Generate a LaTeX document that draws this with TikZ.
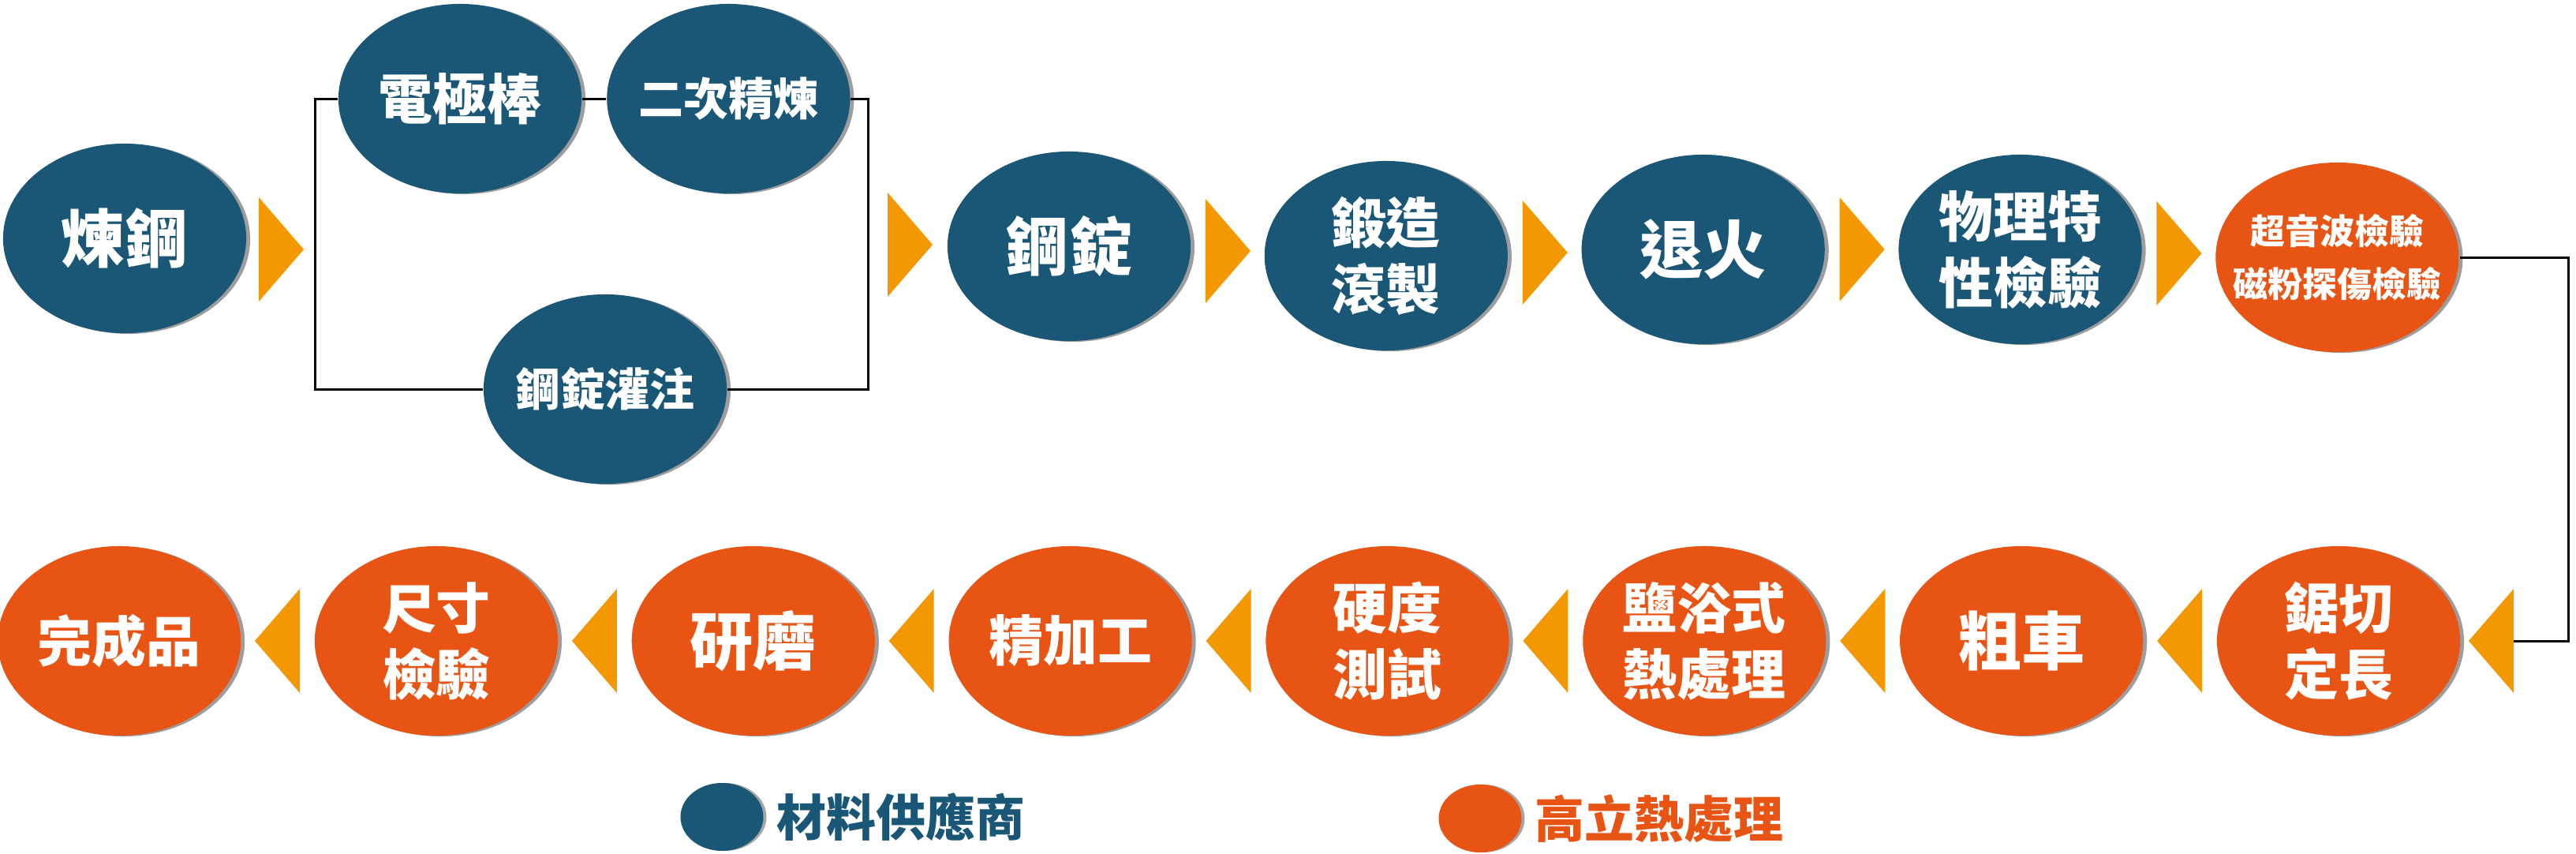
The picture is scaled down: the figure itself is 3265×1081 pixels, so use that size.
\documentclass[tikz,border=0pt]{standalone}
\usepackage{fontspec}
\newfontfamily\cjkfont{Noto Sans CJK TC}
\usetikzlibrary{shapes.geometric,shadows,calc,positioning}

\definecolor{supplierblue}{RGB}{26,86,117}
\definecolor{heatorange}{RGB}{232,84,20}
\definecolor{flowtip}{RGB}{243,152,0}

\newcommand{\fwdtip}[1]{\fill[flowtip] (#1) ++(-28,-66) -- ++(57,66) -- ++(-57,66) -- cycle;}
\newcommand{\backtip}[1]{\fill[flowtip] (#1) ++(28,-66) -- ++(-57,66) -- ++(57,66) -- cycle;}

\begin{document}
\begin{tikzpicture}[x=0.01cm, y=-0.01cm, node distance=0.915cm, semithick]

    \tikzstyle{stage} = [ellipse, minimum width=3.08cm, minimum height=2.4cm, inner xsep=-0.5cm, inner ysep=0pt, text=white, align=center, font=\cjkfont\bfseries\fontsize{19.6}{23.9}\selectfont, drop shadow={shadow xshift=0.05cm, shadow yshift=-0.01cm, fill=black!70, opacity=0.55}]
    \tikzstyle{supplier} = [stage, fill=supplierblue]
    \tikzstyle{heat} = [stage, fill=heatorange]
    \tikzstyle{bigtext} = [font=\cjkfont\bfseries\fontsize{22.8}{27}\selectfont]
    \tikzstyle{midtext} = [font=\cjkfont\bfseries\fontsize{16.2}{20}\selectfont]
    \tikzstyle{smalltext} = [font=\cjkfont\bfseries\fontsize{12.5}{19}\selectfont]
    \tikzstyle{link} = [line width=0.03cm, black]
    \tikzstyle{keydot} = [ellipse, minimum width=1.05cm, minimum height=0.86cm, inner sep=0pt, drop shadow={shadow xshift=0.04cm, shadow yshift=0cm, fill=black!70, opacity=0.5}]
    \tikzstyle{keytext} = [inner sep=0pt, font=\cjkfont\bfseries\fontsize{17.9}{20}\selectfont]

    \useasboundingbox (0,0) rectangle (3265,1081);

    % supplier side
    \node (melt)   [supplier, bigtext] at (158,302)          {煉鋼};
    \node (rod)    [supplier] at (583,125)                   {電極棒};
    \node (refine) [supplier, midtext, right=0.3cm of rod]   {二次精煉};
    \node (pour)   [supplier, midtext] at (767,493)          {鋼錠灌注};

    \node (ingot)  [supplier, bigtext] at (1355,312)                   {鋼錠};
    \node (forge)  [supplier, right=of ingot, yshift=-0.12cm]          {鍛造\\滾製};
    \node (anneal) [supplier, bigtext, right=of forge, yshift=0.08cm]  {退火};
    \node (phys)   [supplier, right=of anneal]                         {物理特\\性檢驗};
    \node (ndt)    [heat, smalltext, right=of phys, yshift=-0.1cm]     {超音波檢驗\\磁粉探傷檢驗};

    % heat treatment side
    \node (saw)    [heat] at (2964,812)              {鋸切\\定長};
    \node (rough)  [heat, bigtext, left=of saw]      {粗車};
    \node (salt)   [heat, left=of rough]             {鹽浴式\\熱處理};
    \node (hard)   [heat, left=of salt]              {硬度\\測試};
    \node (finish) [heat, left=of hard]              {精加工};
    \node (grind)  [heat, bigtext, left=of finish]   {研磨};
    \node (size)   [heat, left=of grind]             {尺寸\\檢驗};
    \node (done)   [heat, left=of size]              {完成品};

    \draw[link] (rod.west) -- ++(-28,0) |- (pour.west);
    \draw[link] (refine.east) -- ++(22,0) |- (pour.east);
    \draw[link] (rod) -- (refine);

    \coordinate (sawIn) at (3186,812);
    \draw[link] (ndt.east) -- ++(138,0) |- (sawIn);

    \fwdtip{356,316}
    \fwdtip{1153,310}
    \fwdtip{$(ingot.east)!0.5!(forge.west)$}
    \fwdtip{$(forge.east)!0.5!(anneal.west)$}
    \fwdtip{$(anneal.east)!0.5!(phys.west)$}
    \fwdtip{$(phys.east)!0.5!(ndt.west)$}

    \backtip{3158,812}
    \backtip{$(rough.east)!0.5!(saw.west)$}
    \backtip{$(salt.east)!0.5!(rough.west)$}
    \backtip{$(hard.east)!0.5!(salt.west)$}
    \backtip{$(finish.east)!0.5!(hard.west)$}
    \backtip{$(grind.east)!0.5!(finish.west)$}
    \backtip{$(size.east)!0.5!(grind.west)$}
    \backtip{$(done.east)!0.5!(size.west)$}

    % legend
    \node (keySupp)     [keydot, fill=supplierblue] at (915,1035) {};
    \node (keySuppText) [keytext, text=supplierblue, right=0.15cm of keySupp] {材料供應商};
    \node (keyHeat)     [keydot, fill=heatorange] at (1876,1037) {};
    \node (keyHeatText) [keytext, text=heatorange, right=0.15cm of keyHeat] {高立熱處理};
\end{tikzpicture}
\end{document}
